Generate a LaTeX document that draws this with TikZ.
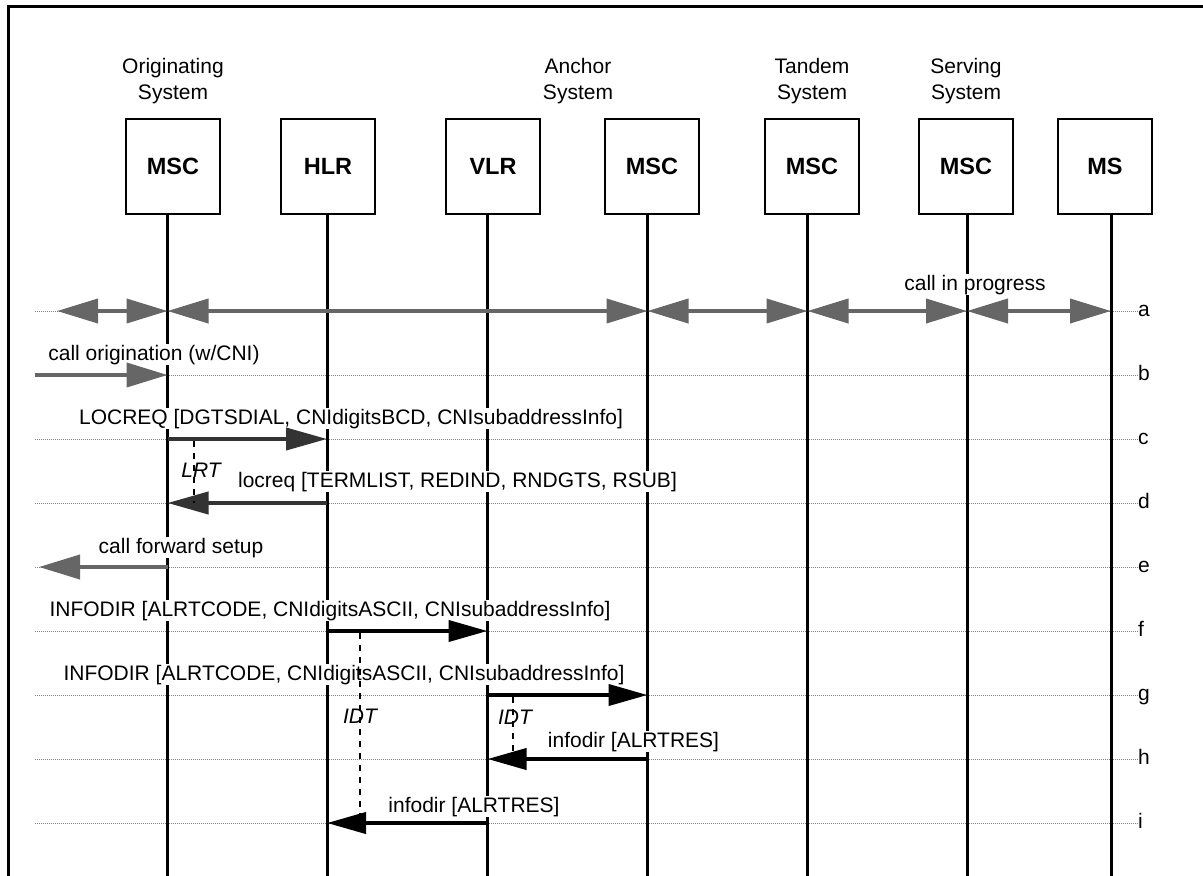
\documentclass[tikz,border=0pt]{standalone}
\usepackage{fontspec}
\setmainfont{Liberation Sans}
\usetikzlibrary{positioning}
\usetikzlibrary{arrows.meta}
\definecolor{flowgray}{HTML}{666666}
\definecolor{flowdark}{HTML}{333333}
\newcommand{\msgfont}{\fontsize{21}{25.5}\selectfont}
\newcommand{\entfont}{\fontsize{23.5}{28}\selectfont\bfseries}
\tikzset{
  entity/.style={draw, line width=2.5pt, minimum width=94pt, minimum height=95pt, inner sep=0pt, font=\entfont},
  syslabel/.style={align=center, inner sep=0pt, font=\msgfont},
  lifeline/.style={line width=3pt},
  rowline/.style={draw=black!50, line width=1pt, densely dotted},
  rowtag/.style={anchor=base west, inner sep=0pt, font=\msgfont},
  msg/.style={anchor=base, fill=white, inner sep=1pt, font=\msgfont},
  timerlabel/.style={anchor=base, inner sep=0pt, font=\msgfont\itshape},
  timer/.style={line width=2pt, dash pattern=on 6pt off 6pt},
  callflow/.style={flowgray, line width=4pt, >={Triangle[length=41pt, width=24pt]}},
  sigreq/.style={flowdark, line width=4pt, >={Triangle[length=41pt, width=22pt]}},
  sigmsg/.style={black, line width=4pt, >={Triangle[length=39pt, width=21pt]}}
}

\begin{document}
\begin{tikzpicture}[x=1pt, y=-1pt]
      \useasboundingbox (0,0) rectangle (1203,876);
      \draw[line width=2.8pt] (8.3,876) -- (8.3,6.2) -- (1203,6.2);

      \node (omsc) at (173,166.5) [entity] {MSC};
      \node (hlr) at (328,166.5) [entity] {HLR};
      \node (vlr) at (493,166.5) [entity] {VLR};
      \node (amsc) at (652,166.5) [entity] {MSC};
      \node (tmsc) at (812,166.5) [entity] {MSC};
      \node (smsc) at (966,166.5) [entity] {MSC};
      \node (ms) at (1105,166.5) [entity] {MS};

      \node [syslabel, above=14pt of omsc] (origsys) {Originating\\System};
      \node [syslabel, anchor=south] (anchsys) at (578,103.7) {Anchor\\System};
      \node [syslabel, above=14pt of tmsc] (tandsys) {Tandem\\System};
      \node [syslabel, above=14pt of smsc] (servsys) {Serving\\System};

      \foreach \r/\y in {a/311,b/375,c/439,d/503,e/567,f/631,g/695,h/759,i/823}{
        \coordinate (w\r) at (35,\y);
        \node (t\r) at (1138,\y+5.5) [rowtag] {\r};
        \draw [rowline] (w\r) -- (w\r -| t\r.west);
      }

      \foreach \n/\x in {omsc/167.5,hlr/327,vlr/487.5,amsc/647.5,tmsc/807.5,smsc/967,ms/1111}{
        \coordinate (\n-end) at (\x,876);
        \draw [lifeline] (\n-end |- \n.south) -- (\n-end);
      }

      \node (inprog) at (975,290) [msg] {call in progress};
      \node (callorig) at (154,360) [msg] {call origination (w/CNI)};
      \node (locreqq) at (351,424) [msg] {LOCREQ [DGTSDIAL, CNIdigitsBCD, CNIsubaddressInfo]};
      \node (locreqr) at (457.5,487) [msg] {locreq [TERMLIST, REDIND, RNDGTS, RSUB]};
      \node (cfwd) at (181,553) [msg] {call forward setup};
      \node (infodirq1) at (330,616) [msg] {INFODIR [ALRTCODE, CNIdigitsASCII, CNIsubaddressInfo]};
      \node (infodirq2) at (344,680) [msg] {INFODIR [ALRTCODE, CNIdigitsASCII, CNIsubaddressInfo]};
      \node (infodirr1) at (633.5,747) [msg] {infodir [ALRTRES]};
      \node (infodirr2) at (474,812) [msg] {infodir [ALRTRES]};

      \coordinate (wa2) at (57,311);
      \coordinate (we2) at (39,567);
      \draw [callflow, <->] (wa2) -- (omsc-end |- wa);
      \foreach \p/\q in {omsc/amsc,amsc/tmsc,tmsc/smsc,smsc/ms}
        \draw [callflow, <->] (\p-end |- wa) -- (\q-end |- wa);
      \draw [callflow, ->] (wb) -- (omsc-end |- wb);
      \draw [sigreq, ->] (omsc-end |- wc) -- (hlr-end |- wc);
      \draw [sigreq, ->] (hlr-end |- wd) -- (omsc-end |- wd);
      \draw [callflow, ->] (omsc-end |- we) -- (we2);
      \draw [sigmsg, ->] (hlr-end |- wf) -- (vlr-end |- wf);
      \draw [sigmsg, ->] (vlr-end |- wg) -- (amsc-end |- wg);
      \draw [sigmsg, ->] (amsc-end |- wh) -- (vlr-end |- wh);
      \draw [sigmsg, ->] (vlr-end |- wi) -- (hlr-end |- wi);

      \coordinate (lrt-a) at (194,441);
      \coordinate (lrt-b) at (194,503);
      \coordinate (idt1-a) at (359.5,633);
      \coordinate (idt1-b) at (359.5,823);
      \coordinate (idt2-a) at (512.5,697);
      \coordinate (idt2-b) at (512.5,759);
      \draw [timer] (lrt-a) -- (lrt-b);
      \draw [timer] (idt1-a) -- (idt1-b);
      \draw [timer] (idt2-a) -- (idt2-b);
      \node (lrt) at (201,477) [timerlabel] {LRT};
      \node (idt1) at (360,723) [timerlabel] {IDT};
      \node (idt2) at (515,724) [timerlabel] {IDT};
\end{tikzpicture}
\end{document}
